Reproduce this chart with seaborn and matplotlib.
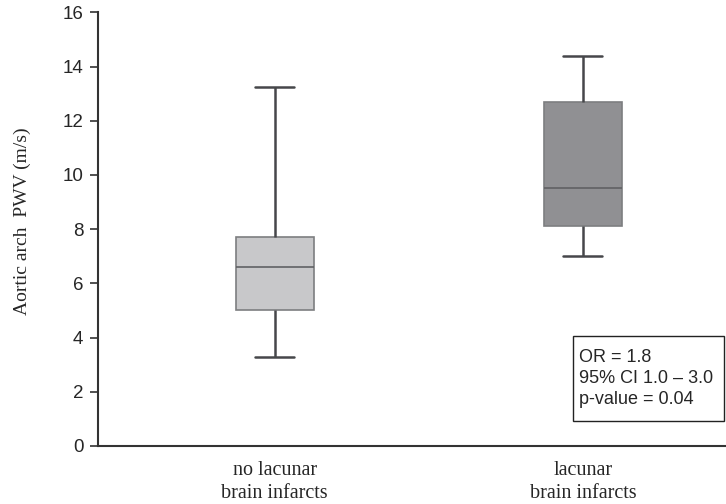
import numpy as np
import pandas as pd
import matplotlib
matplotlib.use("Agg")
import matplotlib.pyplot as plt
from matplotlib.patches import Rectangle
import seaborn as sns

# Five-number summaries (min, Q1, median, Q3, max) of aortic arch PWV
groups = ["no lacunar\nbrain infarcts", "lacunar\nbrain infarcts"]
no_lacunar = [3.3, 5.0, 6.6, 7.7, 13.25]
lacunar = [7.0, 8.1, 9.5, 12.7, 14.4]
y_ticks = [0, 2, 4, 6, 8, 10, 12, 14, 16]
stats_text = ["OR = 1.8", "95% CI 1.0 \u2013 3.0", "p-value = 0.04"]

df = pd.DataFrame({
    "group": [groups[0]] * len(no_lacunar) + [groups[1]] * len(lacunar),
    "pwv": no_lacunar + lacunar,
})

sns.set_style("white")
fig = plt.figure(figsize=(7.26, 5.04), dpi=100)
ax = fig.add_axes([0.1343, 0.1151, 0.8657, 0.8605])

sns.boxplot(
    data=df, x="group", y="pwv", hue="group", order=groups,
    palette=["#c8c8ca", "#8f9094"], whis=(0, 100), width=0.253,
    linewidth=1.2, legend=False, ax=ax,
    boxprops=dict(edgecolor="#7d7e80", linewidth=1.2),
    medianprops=dict(color="#606164", linewidth=1.2),
    whiskerprops=dict(color="#46474a", linewidth=1.8),
    capprops=dict(color="#46474a", linewidth=1.8),
)

ax.set_xlim(-0.575, 1.464)
ax.set_ylim(0, 16)
ax.set_yticks(y_ticks)
ax.set_yticklabels([str(t) for t in y_ticks], fontfamily="Liberation Sans", fontsize=13.5)
ax.set_xticks([0, 1])
ax.set_xticklabels(groups, fontfamily="Liberation Serif", fontsize=14.5, linespacing=1.3)
ax.tick_params(axis="x", length=0, pad=11)
ax.tick_params(axis="y", direction="out", length=5.8, width=1.2, color="#333333", pad=4.3, left=True)
ax.set_xlabel("")
ax.set_ylabel("Aortic arch  PWV (m/s)", fontfamily="Liberation Serif", fontsize=14)
ax.yaxis.set_label_coords(-0.106, 0.518)

for side in ["top", "right"]:
    ax.spines[side].set_visible(False)
for side in ["left", "bottom"]:
    ax.spines[side].set_color("#333333")
    ax.spines[side].set_linewidth(1.5)

# Odds-ratio annotation box
ax.add_patch(Rectangle((0.756, 0.058), 0.2415, 0.1956, transform=ax.transAxes,
                       facecolor="white", edgecolor="#222222", linewidth=1.0,
                       clip_on=False, zorder=3))
ax.text(
    0.7665, 0.156, "\n".join(stats_text), transform=ax.transAxes,
    fontfamily="Liberation Sans", fontsize=13, va="center", ha="left",
    linespacing=1.3, zorder=4,
)

fig.savefig("out.png", dpi=100)
